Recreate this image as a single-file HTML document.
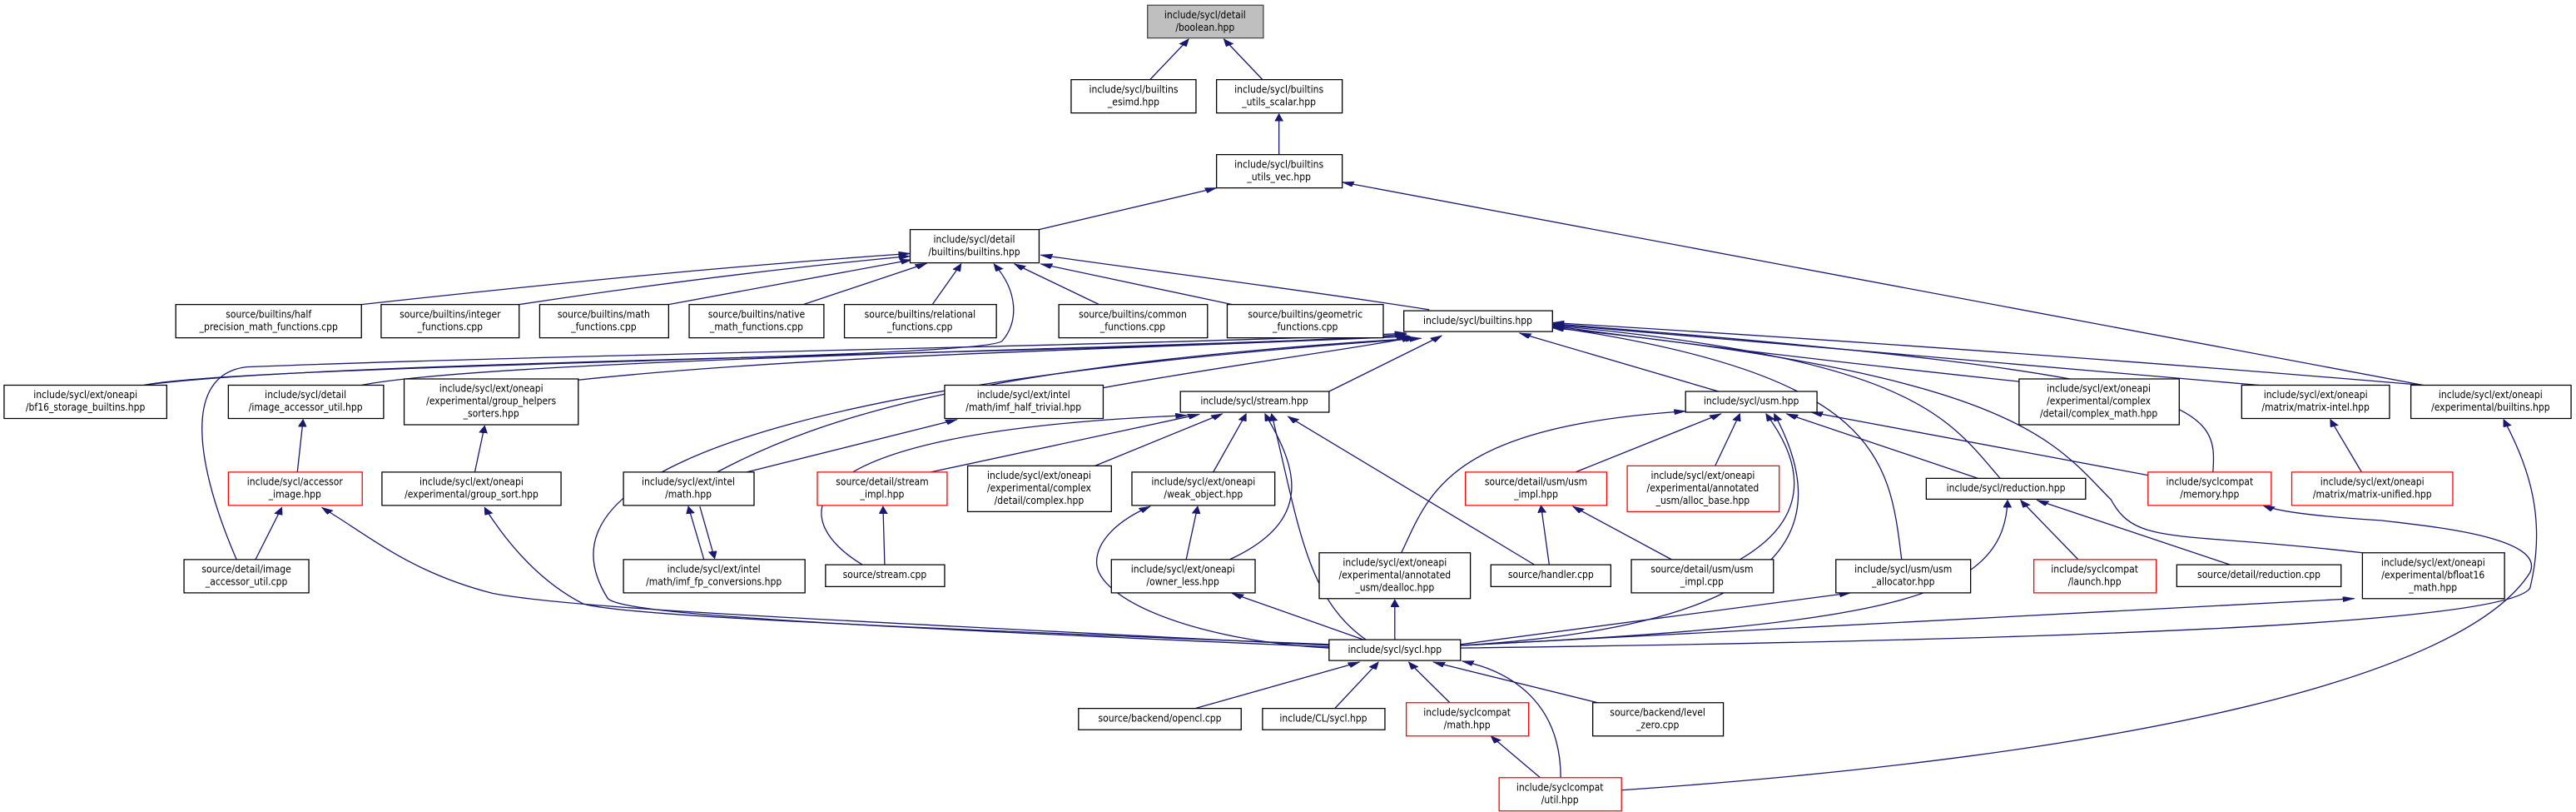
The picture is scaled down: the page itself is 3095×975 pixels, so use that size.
<!DOCTYPE html>
<html><head><meta charset="utf-8"><style>
html,body{margin:0;padding:0;background:#fff;}
svg{display:block;}
text{font-family:"DejaVu Sans Condensed","DejaVu Sans","Liberation Sans",sans-serif;font-stretch:condensed;font-size:12.2px;text-anchor:middle;fill:#000;}
rect{fill:#fff;stroke:#000;stroke-width:1.3;vector-effect:non-scaling-stroke;}
rect.r{stroke:#ff0000;}
rect.g{fill:#bfbfbf;stroke:#444;}
path{fill:none;stroke:#191970;stroke-width:1.3;vector-effect:non-scaling-stroke;marker-end:url(#a);}
</style></head><body>
<svg width="3095" height="975" viewBox="0 0 3136 1560" preserveAspectRatio="none" xmlns="http://www.w3.org/2000/svg">
<defs><marker id="a" markerUnits="userSpaceOnUse" markerWidth="16" markerHeight="12" refX="14" refY="5" orient="auto"><polygon points="0,0 14,5 0,10" fill="#191970" stroke="#191970"/></marker></defs>
<!-- edges -->
<path d="M1400,153 L1447,75"/>
<path d="M1537,153 L1490,75"/>
<path d="M1557,297 L1557,219"/>
<path d="M1265,441 L1481,361"/>
<path d="M2950,740 L1634,350"/>
<path d="M440,585 C700,540 900,510 1108,487"/>
<path d="M632,585 C800,545 950,515 1108,492"/>
<path d="M814,585 C900,560 1000,530 1110,499"/>
<path d="M978,585 L1128,506"/>
<path d="M1135,585 L1170,507"/>
<path d="M1338,585 L1235,507"/>
<path d="M1500,585 L1267,507"/>
<path d="M1740,595 C1600,560 1400,520 1267,490"/>
<path d="M175,740 C300,700 1200,690 1220,655 C1240,620 1240,560 1210,507"/>
<path d="M288,1075 C240,900 220,720 300,705 C700,680 1500,660 1712,640"/>
<path d="M175,740 C400,690 1400,680 1712,642"/>
<path d="M440,740 C600,690 1400,670 1714,645"/>
<path d="M704,730 C1000,680 1400,670 1716,646"/>
<path d="M1343,745 C1500,700 1650,670 1720,648"/>
<path d="M873,907 C1000,800 1200,700 1725,650"/>
<path d="M1618,752 L1755,645"/>
<path d="M2092,752 L1850,640"/>
<path d="M1618,1243 C1000,1200 760,1180 740,1150 C680,1000 720,760 1730,650"/>
<path d="M2435,919 C2370,800 2330,690 1890,625"/>
<path d="M2315,1075 C2300,880 2290,720 1890,628"/>
<path d="M2458,733 C2200,690 2000,650 1890,626"/>
<path d="M2750,740 C2400,690 2100,650 1890,623"/>
<path d="M2950,740 C2500,680 2100,640 1890,620"/>
<path d="M2694,907 C2700,780 2690,720 1890,622"/>
<path d="M2876,1062 C2650,1020 2600,1050 2570,960 C2500,850 2460,720 1890,630"/>
<path d="M362,907 L369,806"/>
<path d="M578,907 L590,818"/>
<path d="M311,1075 L343,975"/>
<path d="M1618,1240 C1000,1190 700,1170 600,1140 C500,1100 450,1030 392,975"/>
<path d="M1618,1238 C1000,1200 750,1180 710,1160 C660,1120 620,1050 590,975"/>
<path d="M909,907 L1165,806"/>
<path d="M857,1075 L838,973"/>
<path d="M852,973 L870,1073"/>
<path d="M1050,1085 C960,1000 940,830 1445,798"/>
<path d="M1133,907 L1460,796"/>
<path d="M1333,895 L1488,795"/>
<path d="M1477,907 L1517,795"/>
<path d="M1497,1075 C1600,1000 1580,900 1540,795"/>
<path d="M1663,1229 C1590,1150 1580,1000 1548,795"/>
<path d="M1868,1085 L1568,800"/>
<path d="M1077,1085 L1075,973"/>
<path d="M1444,1075 L1458,973"/>
<path d="M1618,1245 C1450,1230 1335,1150 1335,1080 C1335,1040 1360,1000 1400,973"/>
<path d="M1660,1229 L1500,1140"/>
<path d="M1918,907 L2095,795"/>
<path d="M2088,895 L2118,795"/>
<path d="M2408,919 L2175,795"/>
<path d="M2615,913 L2205,792"/>
<path d="M1706,1062 C1740,950 1760,820 2052,790"/>
<path d="M2118,1075 C2200,1000 2200,900 2150,795"/>
<path d="M1778,1240 C2200,1200 2230,1000 2160,795"/>
<path d="M1886,1085 L1876,971"/>
<path d="M2035,1075 L1915,973"/>
<path d="M1698,1229 L1698,1152"/>
<path d="M1778,1238 L2253,1139"/>
<path d="M2530,1075 L2460,961"/>
<path d="M2715,1085 L2480,961"/>
<path d="M1778,1240 C2300,1200 2440,1150 2444,961"/>
<path d="M2875,907 L2837,806"/>
<path d="M1778,1245 C2500,1230 3050,1200 3080,1130 C3100,1000 3080,900 3048,806"/>
<path d="M1778,1240 L2866,1150"/>
<path d="M1974,1518 C2600,1450 3000,1300 3080,1100 C3100,1030 2950,1010 2900,1000 C2800,990 2770,980 2755,971"/>
<path d="M1455,1361 L1655,1272"/>
<path d="M1625,1361 L1678,1272"/>
<path d="M1765,1350 L1715,1272"/>
<path d="M1945,1350 L1745,1272"/>
<path d="M1900,1494 C1900,1350 1840,1290 1780,1270"/>
<path d="M1875,1494 L1815,1414"/>
<!-- nodes -->
<rect class="g" x="1397" y="10" width="141" height="63"/><text transform="translate(1467,35) scale(1,1.58)"><tspan x="0">include/sycl/detail</tspan><tspan x="0" dy="15.2">/boolean.hpp</tspan></text>
<rect x="1304" y="153" width="152" height="64"/><text transform="translate(1380,178) scale(1,1.58)"><tspan x="0">include/sycl/builtins</tspan><tspan x="0" dy="15.2">_esimd.hpp</tspan></text>
<rect x="1481" y="153" width="153" height="64"/><text transform="translate(1557,178) scale(1,1.58)"><tspan x="0">include/sycl/builtins</tspan><tspan x="0" dy="15.2">_utils_scalar.hpp</tspan></text>
<rect x="1481" y="297" width="153" height="64"/><text transform="translate(1557,322) scale(1,1.58)"><tspan x="0">include/sycl/builtins</tspan><tspan x="0" dy="15.2">_utils_vec.hpp</tspan></text>
<rect x="1108" y="441" width="157" height="64"/><text transform="translate(1186,466) scale(1,1.58)"><tspan x="0">include/sycl/detail</tspan><tspan x="0" dy="15.2">/builtins/builtins.hpp</tspan></text>
<rect x="214" y="585" width="226" height="64"/><text transform="translate(327,610) scale(1,1.58)"><tspan x="0">source/builtins/half</tspan><tspan x="0" dy="15.2">_precision_math_functions.cpp</tspan></text>
<rect x="464" y="585" width="168" height="64"/><text transform="translate(548,610) scale(1,1.58)"><tspan x="0">source/builtins/integer</tspan><tspan x="0" dy="15.2">_functions.cpp</tspan></text>
<rect x="657" y="585" width="157" height="64"/><text transform="translate(735,610) scale(1,1.58)"><tspan x="0">source/builtins/math</tspan><tspan x="0" dy="15.2">_functions.cpp</tspan></text>
<rect x="839" y="585" width="164" height="64"/><text transform="translate(921,610) scale(1,1.58)"><tspan x="0">source/builtins/native</tspan><tspan x="0" dy="15.2">_math_functions.cpp</tspan></text>
<rect x="1028" y="585" width="185" height="64"/><text transform="translate(1120,610) scale(1,1.58)"><tspan x="0">source/builtins/relational</tspan><tspan x="0" dy="15.2">_functions.cpp</tspan></text>
<rect x="1289" y="585" width="181" height="64"/><text transform="translate(1379,610) scale(1,1.58)"><tspan x="0">source/builtins/common</tspan><tspan x="0" dy="15.2">_functions.cpp</tspan></text>
<rect x="1494" y="585" width="190" height="64"/><text transform="translate(1589,610) scale(1,1.58)"><tspan x="0">source/builtins/geometric</tspan><tspan x="0" dy="15.2">_functions.cpp</tspan></text>
<rect x="1709" y="597" width="181" height="40"/><text transform="translate(1799,622) scale(1,1.58)">include/sycl/builtins.hpp</text>
<rect x="5" y="740" width="198" height="64"/><text transform="translate(104,765) scale(1,1.58)"><tspan x="0">include/sycl/ext/oneapi</tspan><tspan x="0" dy="15.2">/bf16_storage_builtins.hpp</tspan></text>
<rect x="278" y="740" width="189" height="64"/><text transform="translate(372,765) scale(1,1.58)"><tspan x="0">include/sycl/detail</tspan><tspan x="0" dy="15.2">/image_accessor_util.hpp</tspan></text>
<rect x="492" y="728" width="212" height="88"/><text transform="translate(598,753) scale(1,1.58)"><tspan x="0">include/sycl/ext/oneapi</tspan><tspan x="0" dy="15.2">/experimental/group_helpers</tspan><tspan x="0" dy="15.2">_sorters.hpp</tspan></text>
<rect x="1150" y="740" width="193" height="64"/><text transform="translate(1246,765) scale(1,1.58)"><tspan x="0">include/sycl/ext/intel</tspan><tspan x="0" dy="15.2">/math/imf_half_trivial.hpp</tspan></text>
<rect x="1437" y="752" width="181" height="40"/><text transform="translate(1527,777) scale(1,1.58)">include/sycl/stream.hpp</text>
<rect x="2052" y="752" width="160" height="40"/><text transform="translate(2132,777) scale(1,1.58)">include/sycl/usm.hpp</text>
<rect x="2458" y="728" width="195" height="88"/><text transform="translate(2555,753) scale(1,1.58)"><tspan x="0">include/sycl/ext/oneapi</tspan><tspan x="0" dy="15.2">/experimental/complex</tspan><tspan x="0" dy="15.2">/detail/complex_math.hpp</tspan></text>
<rect x="2729" y="740" width="180" height="64"/><text transform="translate(2819,765) scale(1,1.58)"><tspan x="0">include/sycl/ext/oneapi</tspan><tspan x="0" dy="15.2">/matrix/matrix-intel.hpp</tspan></text>
<rect x="2935" y="740" width="195" height="64"/><text transform="translate(3032,765) scale(1,1.58)"><tspan x="0">include/sycl/ext/oneapi</tspan><tspan x="0" dy="15.2">/experimental/builtins.hpp</tspan></text>
<rect class="r" x="278" y="907" width="163" height="64"/><text transform="translate(359,932) scale(1,1.58)"><tspan x="0">include/sycl/accessor</tspan><tspan x="0" dy="15.2">_image.hpp</tspan></text>
<rect x="465" y="907" width="218" height="64"/><text transform="translate(574,932) scale(1,1.58)"><tspan x="0">include/sycl/ext/oneapi</tspan><tspan x="0" dy="15.2">/experimental/group_sort.hpp</tspan></text>
<rect x="759" y="907" width="159" height="64"/><text transform="translate(838,932) scale(1,1.58)"><tspan x="0">include/sycl/ext/intel</tspan><tspan x="0" dy="15.2">/math.hpp</tspan></text>
<rect class="r" x="995" y="907" width="158" height="64"/><text transform="translate(1074,932) scale(1,1.58)"><tspan x="0">source/detail/stream</tspan><tspan x="0" dy="15.2">_impl.hpp</tspan></text>
<rect x="1178" y="895" width="175" height="88"/><text transform="translate(1265,920) scale(1,1.58)"><tspan x="0">include/sycl/ext/oneapi</tspan><tspan x="0" dy="15.2">/experimental/complex</tspan><tspan x="0" dy="15.2">/detail/complex.hpp</tspan></text>
<rect x="1378" y="907" width="174" height="64"/><text transform="translate(1465,932) scale(1,1.58)"><tspan x="0">include/sycl/ext/oneapi</tspan><tspan x="0" dy="15.2">/weak_object.hpp</tspan></text>
<rect class="r" x="1784" y="907" width="172" height="64"/><text transform="translate(1870,932) scale(1,1.58)"><tspan x="0">source/detail/usm/usm</tspan><tspan x="0" dy="15.2">_impl.hpp</tspan></text>
<rect class="r" x="1981" y="895" width="185" height="88"/><text transform="translate(2073,920) scale(1,1.58)"><tspan x="0">include/sycl/ext/oneapi</tspan><tspan x="0" dy="15.2">/experimental/annotated</tspan><tspan x="0" dy="15.2">_usm/alloc_base.hpp</tspan></text>
<rect x="2345" y="919" width="194" height="40"/><text transform="translate(2442,944) scale(1,1.58)">include/sycl/reduction.hpp</text>
<rect class="r" x="2615" y="907" width="150" height="64"/><text transform="translate(2690,932) scale(1,1.58)"><tspan x="0">include/syclcompat</tspan><tspan x="0" dy="15.2">/memory.hpp</tspan></text>
<rect class="r" x="2790" y="907" width="196" height="64"/><text transform="translate(2888,932) scale(1,1.58)"><tspan x="0">include/sycl/ext/oneapi</tspan><tspan x="0" dy="15.2">/matrix/matrix-unified.hpp</tspan></text>
<rect x="224" y="1075" width="152" height="64"/><text transform="translate(300,1100) scale(1,1.58)"><tspan x="0">source/detail/image</tspan><tspan x="0" dy="15.2">_accessor_util.cpp</tspan></text>
<rect x="759" y="1075" width="221" height="64"/><text transform="translate(869,1100) scale(1,1.58)"><tspan x="0">include/sycl/ext/intel</tspan><tspan x="0" dy="15.2">/math/imf_fp_conversions.hpp</tspan></text>
<rect x="1005" y="1085" width="145" height="42"/><text transform="translate(1077,1110) scale(1,1.58)">source/stream.cpp</text>
<rect x="1353" y="1075" width="175" height="64"/><text transform="translate(1440,1100) scale(1,1.58)"><tspan x="0">include/sycl/ext/oneapi</tspan><tspan x="0" dy="15.2">/owner_less.hpp</tspan></text>
<rect x="1606" y="1062" width="184" height="88"/><text transform="translate(1698,1087) scale(1,1.58)"><tspan x="0">include/sycl/ext/oneapi</tspan><tspan x="0" dy="15.2">/experimental/annotated</tspan><tspan x="0" dy="15.2">_usm/dealloc.hpp</tspan></text>
<rect x="1815" y="1085" width="146" height="42"/><text transform="translate(1888,1110) scale(1,1.58)">source/handler.cpp</text>
<rect x="1986" y="1075" width="173" height="64"/><text transform="translate(2072,1100) scale(1,1.58)"><tspan x="0">source/detail/usm/usm</tspan><tspan x="0" dy="15.2">_impl.cpp</tspan></text>
<rect x="2235" y="1075" width="164" height="64"/><text transform="translate(2317,1100) scale(1,1.58)"><tspan x="0">include/sycl/usm/usm</tspan><tspan x="0" dy="15.2">_allocator.hpp</tspan></text>
<rect class="r" x="2476" y="1075" width="149" height="64"/><text transform="translate(2550,1100) scale(1,1.58)"><tspan x="0">include/syclcompat</tspan><tspan x="0" dy="15.2">/launch.hpp</tspan></text>
<rect x="2650" y="1085" width="200" height="42"/><text transform="translate(2750,1110) scale(1,1.58)">source/detail/reduction.cpp</text>
<rect x="2876" y="1062" width="173" height="88"/><text transform="translate(2962,1087) scale(1,1.58)"><tspan x="0">include/sycl/ext/oneapi</tspan><tspan x="0" dy="15.2">/experimental/bfloat16</tspan><tspan x="0" dy="15.2">_math.hpp</tspan></text>
<rect x="1618" y="1229" width="160" height="40"/><text transform="translate(1698,1254) scale(1,1.58)">include/sycl/sycl.hpp</text>
<rect x="1313" y="1361" width="198" height="41"/><text transform="translate(1412,1386) scale(1,1.58)">source/backend/opencl.cpp</text>
<rect x="1537" y="1361" width="149" height="41"/><text transform="translate(1611,1386) scale(1,1.58)">include/CL/sycl.hpp</text>
<rect class="r" x="1712" y="1350" width="149" height="64"/><text transform="translate(1786,1375) scale(1,1.58)"><tspan x="0">include/syclcompat</tspan><tspan x="0" dy="15.2">/math.hpp</tspan></text>
<rect x="1939" y="1350" width="159" height="64"/><text transform="translate(2018,1375) scale(1,1.58)"><tspan x="0">source/backend/level</tspan><tspan x="0" dy="15.2">_zero.cpp</tspan></text>
<rect class="r" x="1825" y="1494" width="149" height="64"/><text transform="translate(1899,1519) scale(1,1.58)"><tspan x="0">include/syclcompat</tspan><tspan x="0" dy="15.2">/util.hpp</tspan></text>
</svg>
</body></html>
